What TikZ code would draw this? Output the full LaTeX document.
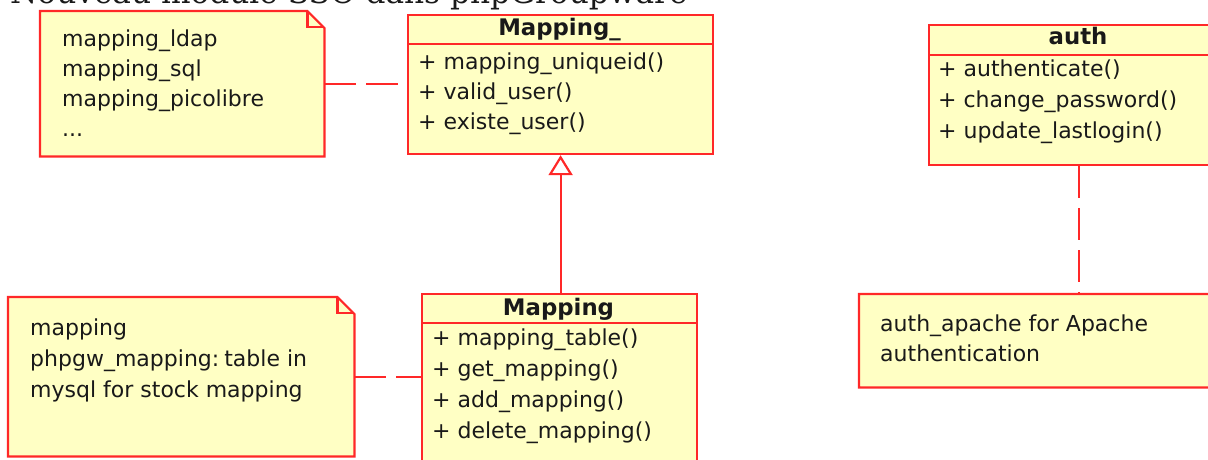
\documentclass[tikz,border=0pt]{standalone}
\usepackage{fontspec}
\setmainfont{DejaVu Sans}
\newfontfamily\titlefont{DejaVu Serif}
\usetikzlibrary{arrows.meta,calc}
\definecolor{umlfill}{RGB}{255,255,196}
\definecolor{umlline}{RGB}{255,40,40}
\definecolor{umltext}{RGB}{25,25,25}
\begin{document}
\begin{tikzpicture}[x=1pt,y=-1pt,
  every node/.style={text=umltext},
  classbox/.style={draw=umlline,fill=umlfill,line width=2.2pt,anchor=north west,inner sep=0pt},
  notearea/.style={anchor=north west,inner sep=0pt},
  noteline/.style={draw=umlline,fill=umlfill,line width=2.2pt,line join=miter},
  divider/.style={draw=umlline,line width=2.2pt},
  header/.style={anchor=base,font=\fontsize{22.8}{26}\bfseries\selectfont},
  members/.style={anchor=north west,inner sep=0pt,align=left,font=\fontsize{22}{30}\selectfont},
  members31/.style={members,font=\fontsize{22}{31}\selectfont},
  link/.style={draw=umlline,line width=2.2pt,dash pattern=on 32pt off 10pt},
  generalize/.style={draw=umlline,line width=2.2pt,-{Triangle[open,length=20pt,width=24pt]}}
]
\useasboundingbox (0,0) rectangle (1208,460);
\clip (0,0) rectangle (1208,460);

% page title
\node[anchor=base west,inner sep=0pt,font=\titlefont\fontsize{31.2}{36}\selectfont] (title) at (10,3.5) {Nouveau module SSO dans phpGroupware};

% class Mapping_
\node[classbox,minimum width=305pt,minimum height=139pt] (mapU) at (407,14) {};
\draw[divider] ($(mapU.north west)+(0,30)$) -- ($(mapU.north east)+(0,30)$);
\node[header] (mapUname) at (559.5,36) {Mapping\_};
\node[members] (mapUops) at (418,48.3) {\strut+ mapping\_uniqueid()\\+ valid\_user()\\+ existe\_user()};

% class Mapping
\node[classbox,minimum width=275pt,minimum height=185pt] (map) at (421,293) {};
\draw[divider] ($(map.north west)+(0,30)$) -- ($(map.north east)+(0,30)$);
\node[header] (mapname) at (558.5,315) {Mapping};
\node[members31] (mapops) at (432,323.3) {\strut+ mapping\_table()\\+ get\_mapping()\\+ add\_mapping()\\+ delete\_mapping()};

% class auth
\node[classbox,minimum width=300pt,minimum height=140pt] (auth) at (928,24) {};
\draw[divider] ($(auth.north west)+(0,31)$) -- ($(auth.north east)+(0,31)$);
\node[header] (authname) at (1078,45) {auth};
\node[members31] (authops) at (938,54.3) {\strut+ authenticate()\\+ change\_password()\\+ update\_lastlogin()};

% note listing the mapping back ends
\node[notearea,minimum width=284pt,minimum height=145pt] (note1) at (40,11) {};
\draw[noteline] (note1.north west) -- ($(note1.north east)+(-17,0)$) -- ($(note1.north east)+(0,17)$)
  -- (note1.south east) -- (note1.south west) -- cycle;
\draw[noteline,fill=none] ($(note1.north east)+(-17,0)$) -- ($(note1.north east)+(-17,16)$) -- ($(note1.north east)+(0,16)$);
\node[members] (note1text) at (62,25.3) {\strut mapping\_ldap\\mapping\_sql\\mapping\_picolibre\\...};

% note on the mapping table
\node[notearea,minimum width=346pt,minimum height=159pt] (note2) at (8,297) {};
\draw[noteline] (note2.north west) -- ($(note2.north east)+(-17,0)$) -- ($(note2.north east)+(0,17)$)
  -- (note2.south east) -- (note2.south west) -- cycle;
\draw[noteline,fill=none] ($(note2.north east)+(-17,0)$) -- ($(note2.north east)+(-17,16)$) -- ($(note2.north east)+(0,16)$);
\node[members31] (note2text) at (30,313.3) {\strut mapping\\phpgw\_mapping:\kern-2pt\ table in\\mysql for stock mapping};

% note on Apache authentication
\node[notearea,minimum width=380pt,minimum height=93pt] (note3) at (859,294) {};
\draw[noteline] (note3.north west) -- ($(note3.north east)+(-17,0)$) -- ($(note3.north east)+(0,17)$)
  -- (note3.south east) -- (note3.south west) -- cycle;
\node[members] (note3text) at (880,310.3) {\strut auth\_apache for Apache\\authentication};

% connectors
\draw[link] (note1.east) -- (mapU.west |- note1.east);
\draw[link] (note2.east) -- (map.west |- note2.east);
\draw[link] (auth.south) -- (auth.south |- note3.north);
\draw[generalize] (map.north -| mapU.south) -- (mapU.south);
\end{tikzpicture}
\end{document}
